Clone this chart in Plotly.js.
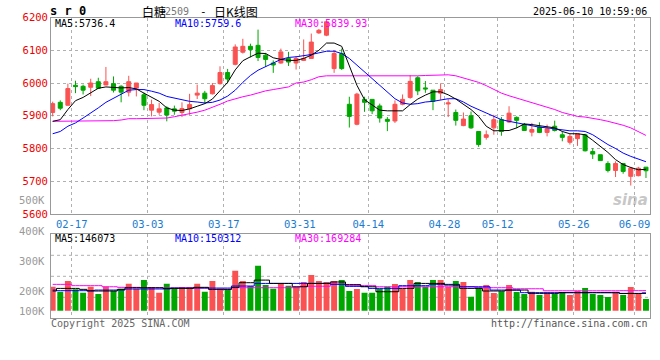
<!DOCTYPE html>
<html><head><meta charset="utf-8">
<script src="https://cdn.plot.ly/plotly-3.0.1.min.js"></script>
<style>html,body{margin:0;padding:0;background:#fff}#chart{width:660px;height:360px}</style>
</head><body><div id="chart"></div>
<script>
// ---- data ----
const opens  = [5910,5941,5932,5993,5990,5987,6004,5994,5998,5990,5972,5984,5964,5917,5911,5924,5921,5910,5921,5963,5969,5967,5998,6032,6057,6094,6112,6115,6085,6061,6061,6075,6061,6069,6075,6153,6146,6044,6090,5935,5874,5950,5950,5930,5889,5884,5935,5956,6016,5985,5978,5969,5936,5910,5870,5900,5852,5834,5863,5888,5881,5895,5873,5850,5866,5849,5868,5842,5819,5830,5842,5791,5781,5754,5733,5754,5715,5717,5743];
const highs  = [5943,5947,5998,6007,5995,6013,6016,6049,6020,5993,6022,6000,5971,5949,5939,5929,5931,5941,5967,5995,5976,6000,6051,6043,6118,6135,6120,6163,6092,6069,6105,6095,6082,6133,6151,6165,6190,6100,6105,5958,5970,5958,5950,5937,5896,5947,5965,6024,6021,6006,5978,5999,5951,5919,5910,5913,5852,5855,5903,5896,5929,5898,5878,5878,5880,5873,5885,5852,5845,5845,5845,5801,5781,5761,5761,5754,5744,5744,5743];
const lows   = [5898,5917,5931,5969,5965,5960,5982,5993,5971,5941,5959,5959,5917,5898,5903,5883,5903,5896,5903,5951,5937,5965,5995,6000,6054,6090,6078,6067,6049,6031,6059,6052,6041,6067,6075,6150,6143,6031,6040,5864,5871,5912,5905,5879,5853,5878,5932,5952,5963,5970,5917,5949,5896,5870,5868,5860,5805,5827,5842,5839,5878,5862,5855,5837,5847,5837,5852,5822,5812,5808,5791,5768,5763,5727,5713,5723,5687,5715,5710];
const closes = [5937,5923,5983,5989,5978,6000,5984,6004,5978,5972,6004,6000,5932,5934,5921,5902,5914,5922,5934,5969,5952,5992,6032,6012,6110,6112,6102,6078,6072,6055,6095,6064,6075,6075,6125,6161,6187,6090,6044,5898,5966,5941,5915,5893,5883,5935,5950,6005,5976,5982,5944,5980,5939,5886,5890,5863,5812,5842,5888,5852,5908,5886,5855,5858,5849,5860,5855,5834,5837,5845,5793,5783,5763,5733,5754,5730,5740,5740,5732];
const ma5  = [5883,5888,5919,5946,5956,5969,5984,5988,5986,5985,5986,5982,5969,5957,5944,5924,5917,5916,5921,5929,5937,5951,5976,6002,6040,6068,6080,6091,6090,6077,6072,6069,6069,6075,6085,6100,6122,6122,6112,6054,5993,5949,5932,5917,5915,5914,5915,5934,5951,5963,5973,5973,5964,5951,5934,5919,5898,5868,5854,5854,5855,5863,5875,5873,5870,5868,5863,5852,5845,5845,5842,5825,5807,5788,5766,5751,5742,5735,5736.4];
const ma10 = [5845,5852,5868,5878,5893,5908,5924,5941,5954,5966,5978,5980,5980,5975,5969,5959,5954,5949,5944,5942,5939,5941,5948,5960,5978,6002,6023,6039,6049,6061,6072,6078,6080,6083,6087,6092,6097,6097,6090,6075,6054,6034,6013,5993,5973,5952,5939,5935,5937,5942,5944,5948,5952,5952,5942,5929,5919,5908,5898,5888,5883,5878,5873,5868,5865,5863,5860,5855,5854,5854,5852,5842,5827,5812,5800,5786,5776,5768,5759.6];
const ma30 = [5883,5883,5883,5883,5885,5885,5885,5885,5885,5887,5891,5891,5891,5891,5891,5893,5897,5901,5905,5911,5917,5925,5935,5945,5952,5958,5963,5970,5976,5980,5983,5988,6000,6003,6010,6019,6022,6022,6022,6022,6022,6020,6020,6020,6020,6020,6020,6020,6022,6023,6024,6025,6025,6022,6015,6010,6002,5992,5980,5969,5961,5954,5946,5939,5934,5927,5919,5910,5903,5898,5896,5893,5888,5883,5878,5871,5863,5852,5839.93];
const volume = [202000,160000,250000,180000,152000,202000,140000,202000,169000,185000,228000,185000,258000,199000,152000,228000,188000,199000,199000,228000,160000,250000,185000,180000,337000,250000,208000,379000,216000,185000,230000,211000,199000,242000,301000,250000,242000,250000,258000,166000,183000,152000,152000,183000,202000,225000,183000,258000,242000,199000,258000,258000,199000,250000,242000,118000,194000,216000,149000,163000,216000,157000,140000,160000,132000,140000,140000,157000,132000,166000,191000,140000,132000,115000,160000,132000,199000,140000,98000];
const vma5  = [166000,188000,188000,188000,180000,166000,166000,166000,166000,180000,194000,194000,194000,194000,194000,188000,188000,188000,188000,197000,197000,180000,180000,180000,197000,236000,236000,258000,258000,230000,230000,230000,202000,202000,230000,230000,230000,242000,242000,220000,220000,202000,202000,160000,160000,160000,188000,188000,230000,230000,230000,230000,216000,216000,188000,188000,188000,166000,166000,166000,174000,174000,174000,146000,146000,146000,146000,152000,152000,152000,152000,152000,152000,152000,152000,146000,146000,146000,146073];
const vma10 = [174000,169000,169000,169000,169000,169000,174000,174000,174000,174000,183000,183000,183000,183000,183000,183000,191000,191000,191000,191000,191000,191000,191000,191000,208000,208000,208000,230000,230000,230000,230000,230000,230000,230000,230000,230000,230000,222000,222000,205000,205000,205000,188000,188000,188000,188000,211000,211000,211000,211000,222000,222000,222000,222000,202000,202000,202000,202000,174000,174000,174000,174000,152000,152000,152000,152000,152000,152000,152000,152000,152000,152000,152000,152000,152000,145000,145000,145000,150312];
const vma30 = [222000,222000,222000,211000,211000,211000,211000,202000,202000,197000,197000,197000,192000,192000,192000,192000,192000,192000,192000,192000,192000,180000,180000,180000,194000,194000,194000,194000,194000,194000,194000,194000,194000,206000,206000,206000,206000,225000,225000,211000,211000,211000,211000,202000,202000,202000,202000,202000,202000,202000,202000,202000,202000,202000,202000,202000,194000,194000,194000,194000,194000,185000,185000,185000,185000,168000,168000,168000,168000,168000,168000,168000,168000,168000,168000,169000,169000,169000,169284];
const tickIdx    = [3,13,23,33,42,52,59,69,77];
const tickLabels = ['02-17','03-03','03-17','03-31','04-14','04-28','05-12','05-26','06-09'];
const priceTicks = [5600,5700,5800,5900,6000,6100,6200];
const volLabels  = ['500K','400K','300K','200K','100K'];

// ---- styling ----
const RED='#fa5252', GREEN='#00a600', GRID='#b0b0b0', BORDER='#999999';
const MONO='DejaVu Sans Mono, monospace';
const W=660, H=360;
const px=x=>x/W, py=y=>1-y/H;
const idx = closes.map((_,i)=>i);
const volColors = closes.map((c,i)=> c>=opens[i] ? RED : GREEN);
const tickv = tickIdx.map(i=>i-0.5);

const traces = [
  {type:'candlestick', x:idx, open:opens, high:highs, low:lows, close:closes,
   increasing:{line:{color:RED,width:1},fillcolor:RED},
   decreasing:{line:{color:GREEN,width:1},fillcolor:GREEN},
   whiskerwidth:0, xaxis:'x', yaxis:'y', hoverinfo:'skip', showlegend:false},
  {type:'scatter', mode:'lines', x:idx, y:ma30, line:{color:'#ff00ff',width:1}, xaxis:'x', yaxis:'y', showlegend:false, hoverinfo:'skip'},
  {type:'scatter', mode:'lines', x:idx, y:ma10, line:{color:'#0000ff',width:1}, xaxis:'x', yaxis:'y', showlegend:false, hoverinfo:'skip'},
  {type:'scatter', mode:'lines', x:idx, y:ma5,  line:{color:'#000000',width:1}, xaxis:'x', yaxis:'y', showlegend:false, hoverinfo:'skip'},
  {type:'bar', x:idx, y:volume, width:0.78, marker:{color:volColors, line:{width:0}}, xaxis:'x2', yaxis:'y2', showlegend:false, hoverinfo:'skip'},
  {type:'scatter', mode:'lines', x:idx, y:vma30, line:{color:'#ff00ff',width:1,shape:'hvh'}, xaxis:'x2', yaxis:'y2', showlegend:false, hoverinfo:'skip'},
  {type:'scatter', mode:'lines', x:idx, y:vma10, line:{color:'#0000ff',width:1,shape:'hvh'}, xaxis:'x2', yaxis:'y2', showlegend:false, hoverinfo:'skip'},
  {type:'scatter', mode:'lines', x:idx, y:vma5,  line:{color:'#000000',width:1,shape:'hvh'}, xaxis:'x2', yaxis:'y2', showlegend:false, hoverinfo:'skip'}
];

const xdom=[px(51),px(650)];
const common = {showline:true, linecolor:BORDER, linewidth:1, mirror:true, zeroline:false, ticks:'', fixedrange:true};
const layout = {
  width:W, height:H, margin:{l:0,r:0,t:0,b:0}, paper_bgcolor:'#fff', plot_bgcolor:'#fff',
  showlegend:false, boxgap:0.25, bargap:0.2,
  xaxis: Object.assign({}, common, {domain:xdom, anchor:'y', range:[-0.22,78.53],
    tickmode:'array', tickvals:tickv, ticktext:tickLabels,
    showgrid:true, gridcolor:GRID, griddash:'dot', gridwidth:1,
    tickfont:{family:MONO,size:10.5,color:'#1a7bd0'}, rangeslider:{visible:false}}),
  yaxis: Object.assign({}, common, {domain:[py(214),py(17.5)], anchor:'x', range:[5600,6200],
    tickmode:'array', tickvals:priceTicks, showgrid:true, gridcolor:GRID, griddash:'dot',
    tickfont:{family:MONO,size:10.5,color:'#ee0000'}}),
  xaxis2: Object.assign({}, common, {domain:xdom, anchor:'y2', matches:'x', range:[-0.22,78.53],
    tickmode:'array', tickvals:tickv, showticklabels:false,
    showgrid:true, gridcolor:GRID, griddash:'dot', rangeslider:{visible:false}}),
  yaxis2: Object.assign({}, common, {domain:[py(318.3),py(234.3)], anchor:'x2', range:[-64000,644000],
    showticklabels:false, showgrid:false}),
  shapes: [0.25,0.5,0.75].map(f=>({type:'line', xref:'x2 domain', yref:'y2 domain', x0:0, x1:1, y0:f, y1:f,
    line:{color:GRID,width:1,dash:'dot'}, layer:'below'})),
  annotations: []
};
function A(text, x, y, color, xanchor, size, family, extra){
  layout.annotations.push(Object.assign({text:text, xref:'paper', yref:'paper', x:px(x), y:py(y),
    xanchor:xanchor||'left', yanchor:'middle', showarrow:false,
    font:{family:family||MONO, size:size||10, color:color||'#000'}}, extra||{}));
}
// header
A('<b>s r 0</b>', 48, 11, '#000', 'left', 12, 'DejaVu Sans Mono');
A('白糖', 140, 11, '#000', 'left', 12, 'Noto Sans CJK SC');
A('2509', 163, 11.5, '#777', 'left', 10, MONO);
A('-', 198, 11, '#000', 'left', 11, MONO);
A('日K线图', 212, 11, '#000', 'left', 12, 'Noto Sans CJK SC');
A('2025-06-10 10:59:06', 649, 12, '#000', 'right', 10, MONO);
// MA legends
A('MA5:5736.4', 53, 23.5, '#000', 'left', 10, MONO);
A('MA10:5759.6', 173, 23.5, '#0000ff', 'left', 10, MONO);
A('MA30:5839.93', 293, 23.5, '#ff00ff', 'left', 10, MONO);
A('MA5:146073', 53, 238.5, '#000', 'left', 10, MONO);
A('MA10:150312', 173, 238.5, '#0000ff', 'left', 10, MONO);
A('MA30:169284', 293, 238.5, '#ff00ff', 'left', 10, MONO);
// volume axis labels
[200,231,261,291,311].forEach((y,k)=>A(volLabels[k], 47, y, '#999', 'right', 10.5, MONO));
// footer
A('Copyright 2025 SINA.COM', 49, 323.5, '#666', 'left', 10, MONO);
A('http://finance.sina.com.cn', 650, 323.5, '#555', 'right', 10, MONO);
A('<b><i>sina</i></b>', 630, 200, 'rgba(150,150,150,0.55)', 'center', 15, 'DejaVu Sans');

Plotly.newPlot('chart', traces, layout, {staticPlot:true, displayModeBar:false});
</script>
</body></html>
